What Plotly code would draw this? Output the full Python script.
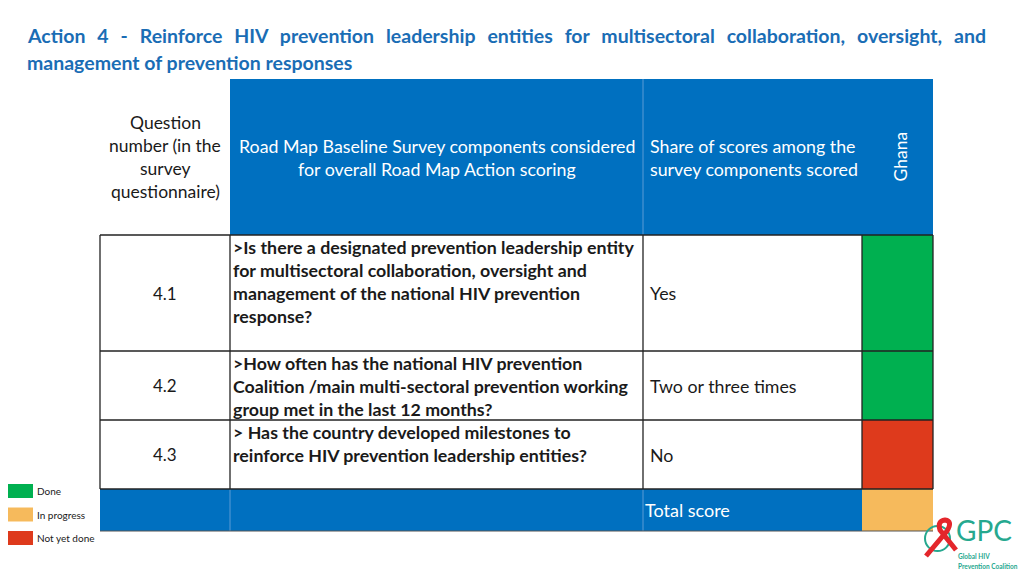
import plotly.graph_objects as go

# ---------------- data ----------------
title_lines = [
    "Action 4 - Reinforce HIV prevention leadership entities for multisectoral collaboration, oversight, and",
    "management of prevention responses",
]
header_question = ["Question", "number (in the", "survey", "questionnaire)"]
header_components = ["Road Map Baseline Survey components considered",
                     "for overall Road Map Action scoring"]
header_share = ["Share of scores among the", "survey components scored"]
country = "Ghana"
question_numbers = ["4.1", "4.2", "4.3"]
question_texts = [
    [">Is there a designated prevention leadership entity",
     "for multisectoral collaboration, oversight and",
     "management of the national HIV prevention",
     "response?"],
    [">How often has the national HIV prevention",
     "Coalition /main multi-sectoral prevention working",
     "group met in the last 12 months?"],
    ["> Has the country developed milestones to",
     "reinforce HIV prevention leadership entities?"],
]
answers = ["Yes", "Two or three times", "No"]
statuses = ["Done", "Done", "Not yet done"]
total_label = "Total score"
total_status = "In progress"
legend_labels = ["Done", "In progress", "Not yet done"]

# ---------------- styles / layout ----------------
status_colors = {"Done": "#00B050", "In progress": "#F6BA5C", "Not yet done": "#DE3A1C"}
BLUE = "#0070C0"
LIGHT = "#5B9BD5"
TITLE_BLUE = "#1A6DB5"
FONT = "Lato"
col_edges = [100, 230, 643, 862, 933]
header_top, header_bottom = 79, 235
row_edges = [235, 351, 420, 489]
total_bottom = 531
line_h = 23

fig = go.Figure()
shapes = []
ann = []

def rect(x0, y0, x1, y1, fill, lc=None, lw=0):
    shapes.append(dict(type="rect", xref="x", yref="y", x0=x0, y0=y0, x1=x1, y1=y1,
                       fillcolor=fill, line=dict(color=lc or fill, width=lw), layer="below"))

def line(x0, y0, x1, y1, color, w=1.3):
    shapes.append(dict(type="line", xref="x", yref="y", x0=x0, y0=y0, x1=x1, y1=y1,
                       line=dict(color=color, width=w)))

def text(x, y, s, size=16, color="#1a1a1a", xanchor="center", bold=False, angle=0):
    ann.append(dict(x=x, y=y, xref="x", yref="y", text=f"<b>{s}</b>" if bold else s,
                    showarrow=False, xanchor=xanchor, yanchor="middle", textangle=angle,
                    font=dict(family=FONT, size=size, color=color)))

# title (first line spread to mimic justified text)
text(25, 35, title_lines[0].replace(" ", " \u00a0\u2009"), size=19.5, color=TITLE_BLUE, xanchor="left", bold=True)
text(25, 62, title_lines[1], size=19.5, color=TITLE_BLUE, xanchor="left", bold=True)

# header
rect(col_edges[1], header_top, col_edges[4], header_bottom, BLUE)
line(col_edges[2], header_top, col_edges[2], header_bottom, LIGHT, 1)
hc = (header_top + header_bottom) / 2
n = len(header_question)
for i, t in enumerate(header_question):
    text((col_edges[0] + col_edges[1]) / 2, hc + (i - (n - 1) / 2) * line_h, t, size=17.5)
n = len(header_components)
for i, t in enumerate(header_components):
    text((col_edges[1] + col_edges[2]) / 2, hc + (i - (n - 1) / 2) * line_h, t, size=17.8, color="white")
n = len(header_share)
for i, t in enumerate(header_share):
    text(col_edges[2] + 5, hc + (i - (n - 1) / 2) * line_h, t, size=17.8, color="white", xanchor="left")
text((col_edges[3] + col_edges[4]) / 2 + 2, hc, country, size=17.5, color="white", angle=-90)

# body rows
for r in range(len(question_numbers)):
    y0, y1 = row_edges[r], row_edges[r + 1]
    yc = (y0 + y1) / 2
    rect(col_edges[3], y0, col_edges[4], y1, status_colors[statuses[r]])
    text((col_edges[0] + col_edges[1]) / 2, yc, question_numbers[r], size=17)
    for i, t in enumerate(question_texts[r]):
        text(col_edges[1] + 1, y0 + 12 + i * line_h, t, size=17.8, xanchor="left", bold=True)
    text(col_edges[2] + 5, yc, answers[r], size=17.8, xanchor="left")

# total row
rect(col_edges[0], row_edges[-1], col_edges[3], total_bottom, BLUE)
rect(col_edges[3], row_edges[-1], col_edges[4], total_bottom, status_colors[total_status])
line(col_edges[1], row_edges[-1], col_edges[1], total_bottom, LIGHT, 1)
line(col_edges[2], row_edges[-1], col_edges[2], total_bottom, LIGHT, 1)
text(col_edges[2], (row_edges[-1] + total_bottom) / 2, total_label, size=18, color="white", xanchor="left")
line(col_edges[0], total_bottom, col_edges[4], total_bottom, "#555555", 1)

# grid lines for body
for y in row_edges:
    line(col_edges[0], y, col_edges[4], y, "#222222", 1.3)
for x in col_edges:
    line(x, row_edges[0], x, row_edges[-1], "#222222", 1.3)

# legend
for i, lab in enumerate(legend_labels):
    yc = 491 + i * 23.5
    rect(8, yc - 7, 33, yc + 7, status_colors[lab])
    text(35, yc, lab, size=10, xanchor="left")

# GPC logo (decorative)
shapes.append(dict(type="circle", xref="x", yref="y", x0=925, y0=526, x1=950, y1=551,
                   line=dict(color="#26A88F", width=2)))
shapes.append(dict(type="path", xref="x", yref="y",
                   path="M 926 556 L 947 531 Q 953 521 945 520 Q 937 521 940 530 L 956 550",
                   line=dict(color="#E4262B", width=5)))
text(984, 530, "GPC", size=28, color="#26A88F")
text(956, 556, "Global HIV", size=6.5, color="#26A88F", xanchor="left", bold=True)
text(956, 566, "Prevention Coalition", size=6.5, color="#26A88F", xanchor="left", bold=True)

fig.update_layout(
    width=1024, height=576, autosize=False,
    margin=dict(l=0, r=0, t=0, b=0),
    paper_bgcolor="white", plot_bgcolor="white",
    xaxis=dict(range=[0, 1024], visible=False, fixedrange=True),
    yaxis=dict(range=[576, 0], visible=False, fixedrange=True),
    shapes=shapes, annotations=ann, showlegend=False,
)
fig.write_html("out.html", config={"displayModeBar": False},
               post_script="document.body.style.margin='0';")
